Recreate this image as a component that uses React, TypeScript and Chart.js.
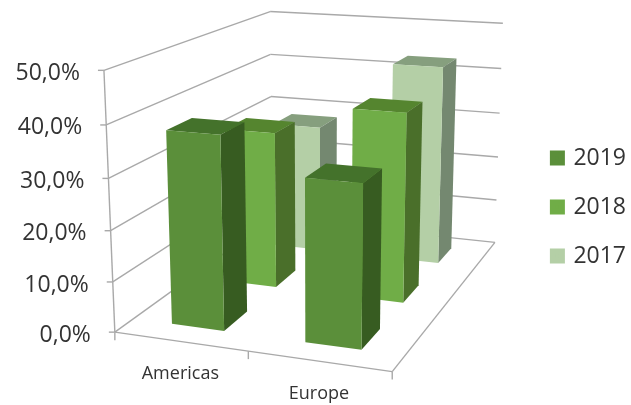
import React, { useEffect, useRef } from "react";
import { Chart, registerables } from "chart.js";

Chart.register(...registerables);

// Chart content
const categories = ["Americas", "Europe"];
const seriesNames = ["2019", "2018", "2017"];
const values2019 = [38, 31.4];
const values2018 = [32.5, 38.7];
const values2017 = [28, 43];
const yMin = 0;
const yMax = 50;
const yStep = 10;

// Face colours per series: front, top, side
const faces2019 = ["#5B8F3A", "#44722B", "#375C21"];
const faces2018 = ["#70AD47", "#55852F", "#4A6F2A"];
const faces2017 = ["#B4CFA6", "#869F7E", "#748870"];

const FONT = '"Open Sans", sans-serif';
const GRID = "#A9A9A9";
const TEXT = "#333333";

// Where the plot box's corners land on the canvas: [across, depth, height, px, py]
const boxCalibration = [
  [0, 0, 0, 115, 333],
  [0, 0, 1, 104, 70],
  [1, 0, 0, 392, 371],
  [0, 1, 0, 272, 218],
  [0, 1, 1, 270, 12],
  [1, 1, 0, 495, 243],
  [1, 1, 1, 503, 23],
];
const barAcross = 0.2; // share of the plot width taken by one bar
const barDepth = 0.14; // share of the plot depth taken by one bar
const categoryLabelDrop = 32.5;

// Least-squares fit of a projective camera (normal equations, Gaussian elimination)
function fitCamera(points: number[][]) {
  const n = 11;
  const A = Array.from({ length: n }, () => new Array(n + 1).fill(0));
  const add = (row: number[], rhs: number) => {
    for (let i = 0; i < n; i++) {
      for (let j = 0; j < n; j++) A[i][j] += row[i] * row[j];
      A[i][n] += row[i] * rhs;
    }
  };
  for (const [a, d, h, px, py] of points) {
    add([a, d, h, 1, 0, 0, 0, 0, -px * a, -px * d, -px * h], px);
    add([0, 0, 0, 0, a, d, h, 1, -py * a, -py * d, -py * h], py);
  }
  for (let c = 0; c < n; c++) {
    let p = c;
    for (let r = c + 1; r < n; r++) if (Math.abs(A[r][c]) > Math.abs(A[p][c])) p = r;
    [A[c], A[p]] = [A[p], A[c]];
    for (let r = 0; r < n; r++) {
      if (r === c) continue;
      const f = A[r][c] / A[c][c];
      for (let k = c; k <= n; k++) A[r][k] -= f * A[c][k];
    }
  }
  const m = A.map((row, i) => row[n] / row[i]);
  return (a: number, d: number, h: number): [number, number] => {
    const w = m[8] * a + m[9] * d + m[10] * h + 1;
    return [
      (m[0] * a + m[1] * d + m[2] * h + m[3]) / w,
      (m[4] * a + m[5] * d + m[6] * h + m[7]) / w,
    ];
  };
}

const project = fitCamera(boxCalibration);

// Draws the 3D box, cuboid bars and axis text from the chart's own scales
const perspectiveBars = {
  id: "perspectiveBars",
  beforeDatasetsDraw(chart: any) {
    const { ctx, scales, data } = chart;
    const xs = scales.x;
    const ys = scales.y;
    const heightOf = (v: number) => (ys.getPixelForValue(v) - ys.bottom) / (ys.top - ys.bottom);
    const acrossOf = (i: number) => (xs.getPixelForValue(i) - xs.left) / xs.width;

    const line = (a: [number, number], b: [number, number]) => {
      ctx.beginPath();
      ctx.moveTo(a[0], a[1]);
      ctx.lineTo(b[0], b[1]);
      ctx.stroke();
    };

    ctx.save();
    ctx.strokeStyle = GRID;
    ctx.lineWidth = 1.4;

    // Walls: one gridline per tick around the left and back sides
    for (const tick of ys.ticks) {
      const h = heightOf(tick.value);
      line(project(0, 0, h), project(0, 1, h));
      line(project(0, 1, h), project(1, 1, h));
      const p = project(0, 0, h);
      line([p[0] - 6, p[1]], p);

      ctx.fillStyle = TEXT;
      ctx.font = `23px ${FONT}`;
      ctx.textAlign = "right";
      ctx.textBaseline = "middle";
      ctx.fillText(tick.label, p[0] - 24, p[1] + 3);
    }

    // Value axis and floor outline
    line(project(0, 0, 0), project(0, 0, 1));
    line(project(0, 0, 0), project(1, 0, 0));
    line(project(1, 0, 0), project(1, 1, 0));

    // Category ticks and labels along the front edge
    const cats = data.labels.length;
    for (let i = 0; i <= cats; i++) {
      const p = project(i / cats, 0, 0);
      line(p, [p[0], p[1] + 8]);
    }
    data.labels.forEach((label: string, i: number) => {
      const p = project(acrossOf(i), 0, 0);
      ctx.fillStyle = TEXT;
      ctx.font = `18px ${FONT}`;
      ctx.textAlign = "center";
      ctx.textBaseline = "middle";
      ctx.fillText(label, p[0], p[1] + categoryLabelDrop);
    });

    // Cuboids, back row first so nearer bars overlap farther ones
    const rows = data.datasets.length;
    const faces = [faces2019, faces2018, faces2017];
    const poly = (pts: [number, number][], fill: string) => {
      ctx.beginPath();
      pts.forEach((q, k) => (k ? ctx.lineTo(q[0], q[1]) : ctx.moveTo(q[0], q[1])));
      ctx.closePath();
      ctx.fillStyle = fill;
      ctx.fill();
    };
    for (let r = rows - 1; r >= 0; r--) {
      const ds = data.datasets[r];
      const dc = (r + 0.5) / rows;
      const d0 = dc - barDepth / 2;
      const d1 = dc + barDepth / 2;
      ds.data.forEach((value: number, i: number) => {
        const ac = acrossOf(i);
        const a0 = ac - barAcross / 2;
        const a1 = ac + barAcross / 2;
        const h = heightOf(value);
        const [front, top, side] = faces[r];
        poly([project(a0, d0, h), project(a1, d0, h), project(a1, d1, h), project(a0, d1, h)], top);
        poly([project(a1, d0, 0), project(a1, d1, 0), project(a1, d1, h), project(a1, d0, h)], side);
        poly([project(a0, d0, 0), project(a1, d0, 0), project(a1, d0, h), project(a0, d0, h)], front);
      });
    }
    ctx.restore();
    return false;
  },
};

export default function App() {
  const ref = useRef<HTMLCanvasElement>(null);

  useEffect(() => {
    document.body.style.margin = "0";
    const swatch = (fill: string) => ({ backgroundColor: fill, borderColor: fill, borderWidth: 6 });
    const chart = new Chart(ref.current!, {
      type: "bar",
      data: {
        labels: categories,
        datasets: [
          { label: seriesNames[0], data: values2019, ...swatch(faces2019[0]) },
          { label: seriesNames[1], data: values2018, ...swatch(faces2018[0]) },
          { label: seriesNames[2], data: values2017, ...swatch(faces2017[0]) },
        ],
      },
      options: {
        responsive: false,
        animation: false,
        layout: { padding: { top: 9, right: -5 } },
        scales: {
          x: { display: false },
          y: {
            display: false,
            min: yMin,
            max: yMax,
            ticks: {
              stepSize: yStep,
              callback: (v: any) => `${Number(v).toFixed(1).replace(".", ",")}%`,
            },
          },
        },
        plugins: {
          tooltip: { enabled: false },
          legend: {
            position: "right",
            labels: {
              boxWidth: 9,
              boxHeight: 9,
              padding: 26,
              color: TEXT,
              font: { family: '"Open Sans", sans-serif', size: 23 },
            },
          },
        },
      },
      plugins: [perspectiveBars],
    } as any);
    return () => chart.destroy();
  }, []);

  return <canvas ref={ref} width={631} height={405} style={{ display: "block" }} />;
}
